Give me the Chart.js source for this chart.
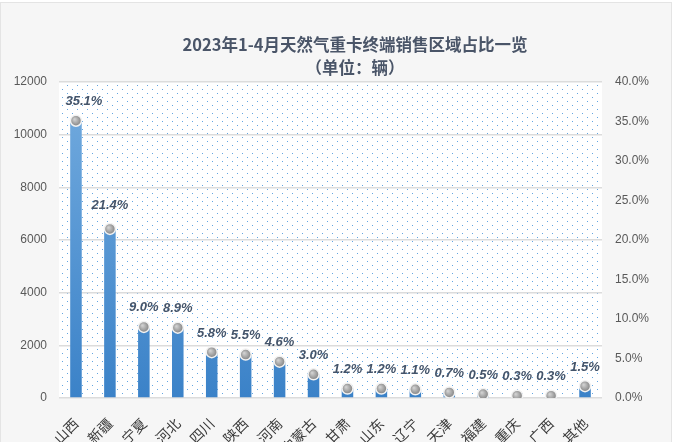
<!DOCTYPE html>
<html>
<head>
<meta charset="utf-8">
<script src="https://cdn.jsdelivr.net/npm/chart.js@4"></script>
<style>
html,body{margin:0;padding:0;background:#ffffff;}
#wrap{position:relative;width:692px;height:442px;}
canvas{display:block;}
</style>
</head>
<body>
<div id="wrap"><canvas id="c" width="692" height="442"></canvas></div>
<script>
const titleLines = ['2023年1-4月天然气重卡终端销售区域占比一览', '（单位：辆）'];
const categories = ['山西','新疆','宁夏','河北','四川','陕西','河南','内蒙古','甘肃','山东','辽宁','天津','福建','重庆','广西','其他'];
const sales = [10462, 6376, 2683, 2645, 1730, 1640, 1370, 895, 360, 355, 330, 205, 150, 90, 85, 450];
const shares = [35.1, 21.4, 9.0, 8.9, 5.8, 5.5, 4.6, 3.0, 1.2, 1.2, 1.1, 0.7, 0.5, 0.3, 0.3, 1.5];
const leftTicks = [0, 2000, 4000, 6000, 8000, 10000, 12000];
const rightTicks = [0, 5, 10, 15, 20, 25, 30, 35, 40];

const PLOT = {left: 59, right: 602, top: 82, bottom: 398};

function makePattern(ctx) {
  const p = document.createElement('canvas');
  p.width = 10; p.height = 8;
  const c = p.getContext('2d');
  c.fillStyle = '#ffffff';
  c.fillRect(0, 0, 10, 8);
  c.fillStyle = 'rgb(100,165,225)';
  c.fillRect(2, 1, 1, 1);
  c.fillRect(7, 5, 1, 1);
  return ctx.createPattern(p, 'repeat');
}

const bgPlugin = {
  id: 'bg',
  beforeDraw(chart) {
    const ctx = chart.ctx;
    const a = chart.chartArea;
    ctx.save();
    ctx.fillStyle = '#ffffff';
    ctx.fillRect(0, 0, chart.width, chart.height);
    ctx.fillStyle = '#f6f6f6';
    ctx.fillRect(0, 2, 672, chart.height - 2);
    ctx.strokeStyle = '#e4e4e4';
    ctx.lineWidth = 1;
    ctx.strokeRect(0.5, 2.5, 671, chart.height);
    ctx.fillStyle = makePattern(ctx);
    ctx.fillRect(a.left, a.top, a.right - a.left, a.bottom - a.top);
    // title
    ctx.fillStyle = '#4a5568';
    ctx.textAlign = 'center';
    ctx.textBaseline = 'middle';
    ctx.font = 'bold 16.5px "Noto Sans CJK SC", "Noto Sans", sans-serif';
    ctx.fillText(titleLines[0], 355, 45);
    ctx.fillText(titleLines[1], 355, 68);
    ctx.restore();
  }
};

const labelPlugin = {
  id: 'pctLabels',
  afterDatasetsDraw(chart) {
    const ctx = chart.ctx;
    const meta = chart.getDatasetMeta(1);
    ctx.save();
    ctx.fillStyle = '#44546a';
    ctx.font = 'italic bold 13px "Liberation Sans", Arial, sans-serif';
    ctx.textAlign = 'center';
    ctx.textBaseline = 'middle';
    meta.data.forEach((pt, i) => {
      const dx = i === 0 ? 8 : 0;
      const dy = i === 1 ? 24 : 19;
      ctx.fillText(shares[i].toFixed(1) + '%', pt.x + dx, pt.y - dy);
    });
    ctx.restore();
  }
};

function barGradient(context) {
  const chart = context.chart;
  const a = chart.chartArea;
  if (!a) return '#4a8fd4';
  const g = chart.ctx.createLinearGradient(0, a.top, 0, a.bottom);
  g.addColorStop(0, '#74acdf');
  g.addColorStop(1, '#3b82c8');
  return g;
}

function pointGradient(context) {
  const chart = context.chart;
  const el = context.element;
  if (!el || el.x === undefined) return '#9a9a9a';
  const g = chart.ctx.createRadialGradient(el.x - 1.5, el.y - 1.5, 0.5, el.x, el.y, 6);
  g.addColorStop(0, '#d0d0d0');
  g.addColorStop(1, '#7c7c7c');
  return g;
}

new Chart(document.getElementById('c'), {
  data: {
    labels: categories,
    datasets: [
      {
        type: 'bar',
        data: sales,
        yAxisID: 'y',
        backgroundColor: barGradient,
        barPercentage: 0.34,
        categoryPercentage: 1.0,
        order: 1
      },
      {
        type: 'line',
        data: shares,
        yAxisID: 'y2',
        showLine: false,
        pointRadius: 5.5,
        pointBackgroundColor: pointGradient,
        pointBorderColor: '#f2f2f2',
        pointBorderWidth: 1.5,
        order: 0
      }
    ]
  },
  options: {
    responsive: false,
    animation: false,
    events: [],
    layout: {padding: {top: PLOT.top, left: 0, right: 0, bottom: 0}},
    plugins: {legend: {display: false}, title: {display: false}, tooltip: {enabled: false}},
    scales: {
      x: {
        grid: {display: false, drawTicks: false},
        border: {display: false},
        ticks: {
          color: '#3a3a3a',
          font: {size: 14, family: '"Noto Sans CJK SC", sans-serif'},
          maxRotation: 45, minRotation: 45,
          padding: 17,
          autoSkip: false
        },
        afterFit(s) { s.height = 442 - PLOT.bottom; }
      },
      y: {
        position: 'left',
        min: 0, max: 12000,
        afterBuildTicks(s) { s.ticks = leftTicks.map(v => ({value: v})); },
        grid: {color: '#dcdcdc', lineWidth: 1.5, drawTicks: false},
        border: {display: false},
        ticks: {
          color: '#595959',
          font: {size: 12, family: '"Liberation Sans", Arial, sans-serif'},
          padding: 12,
          callback: v => String(v)
        },
        afterFit(s) { s.width = PLOT.left; }
      },
      y2: {
        position: 'right',
        min: 0, max: 40,
        afterBuildTicks(s) { s.ticks = rightTicks.map(v => ({value: v})); },
        grid: {display: false, drawTicks: false},
        border: {display: false},
        ticks: {
          color: '#595959',
          font: {size: 12, family: '"Liberation Sans", Arial, sans-serif'},
          padding: 13,
          callback: v => Number(v).toFixed(1) + '%'
        },
        afterFit(s) { s.width = 692 - PLOT.right; }
      }
    }
  },
  plugins: [bgPlugin, labelPlugin]
});
</script>
</body>
</html>
